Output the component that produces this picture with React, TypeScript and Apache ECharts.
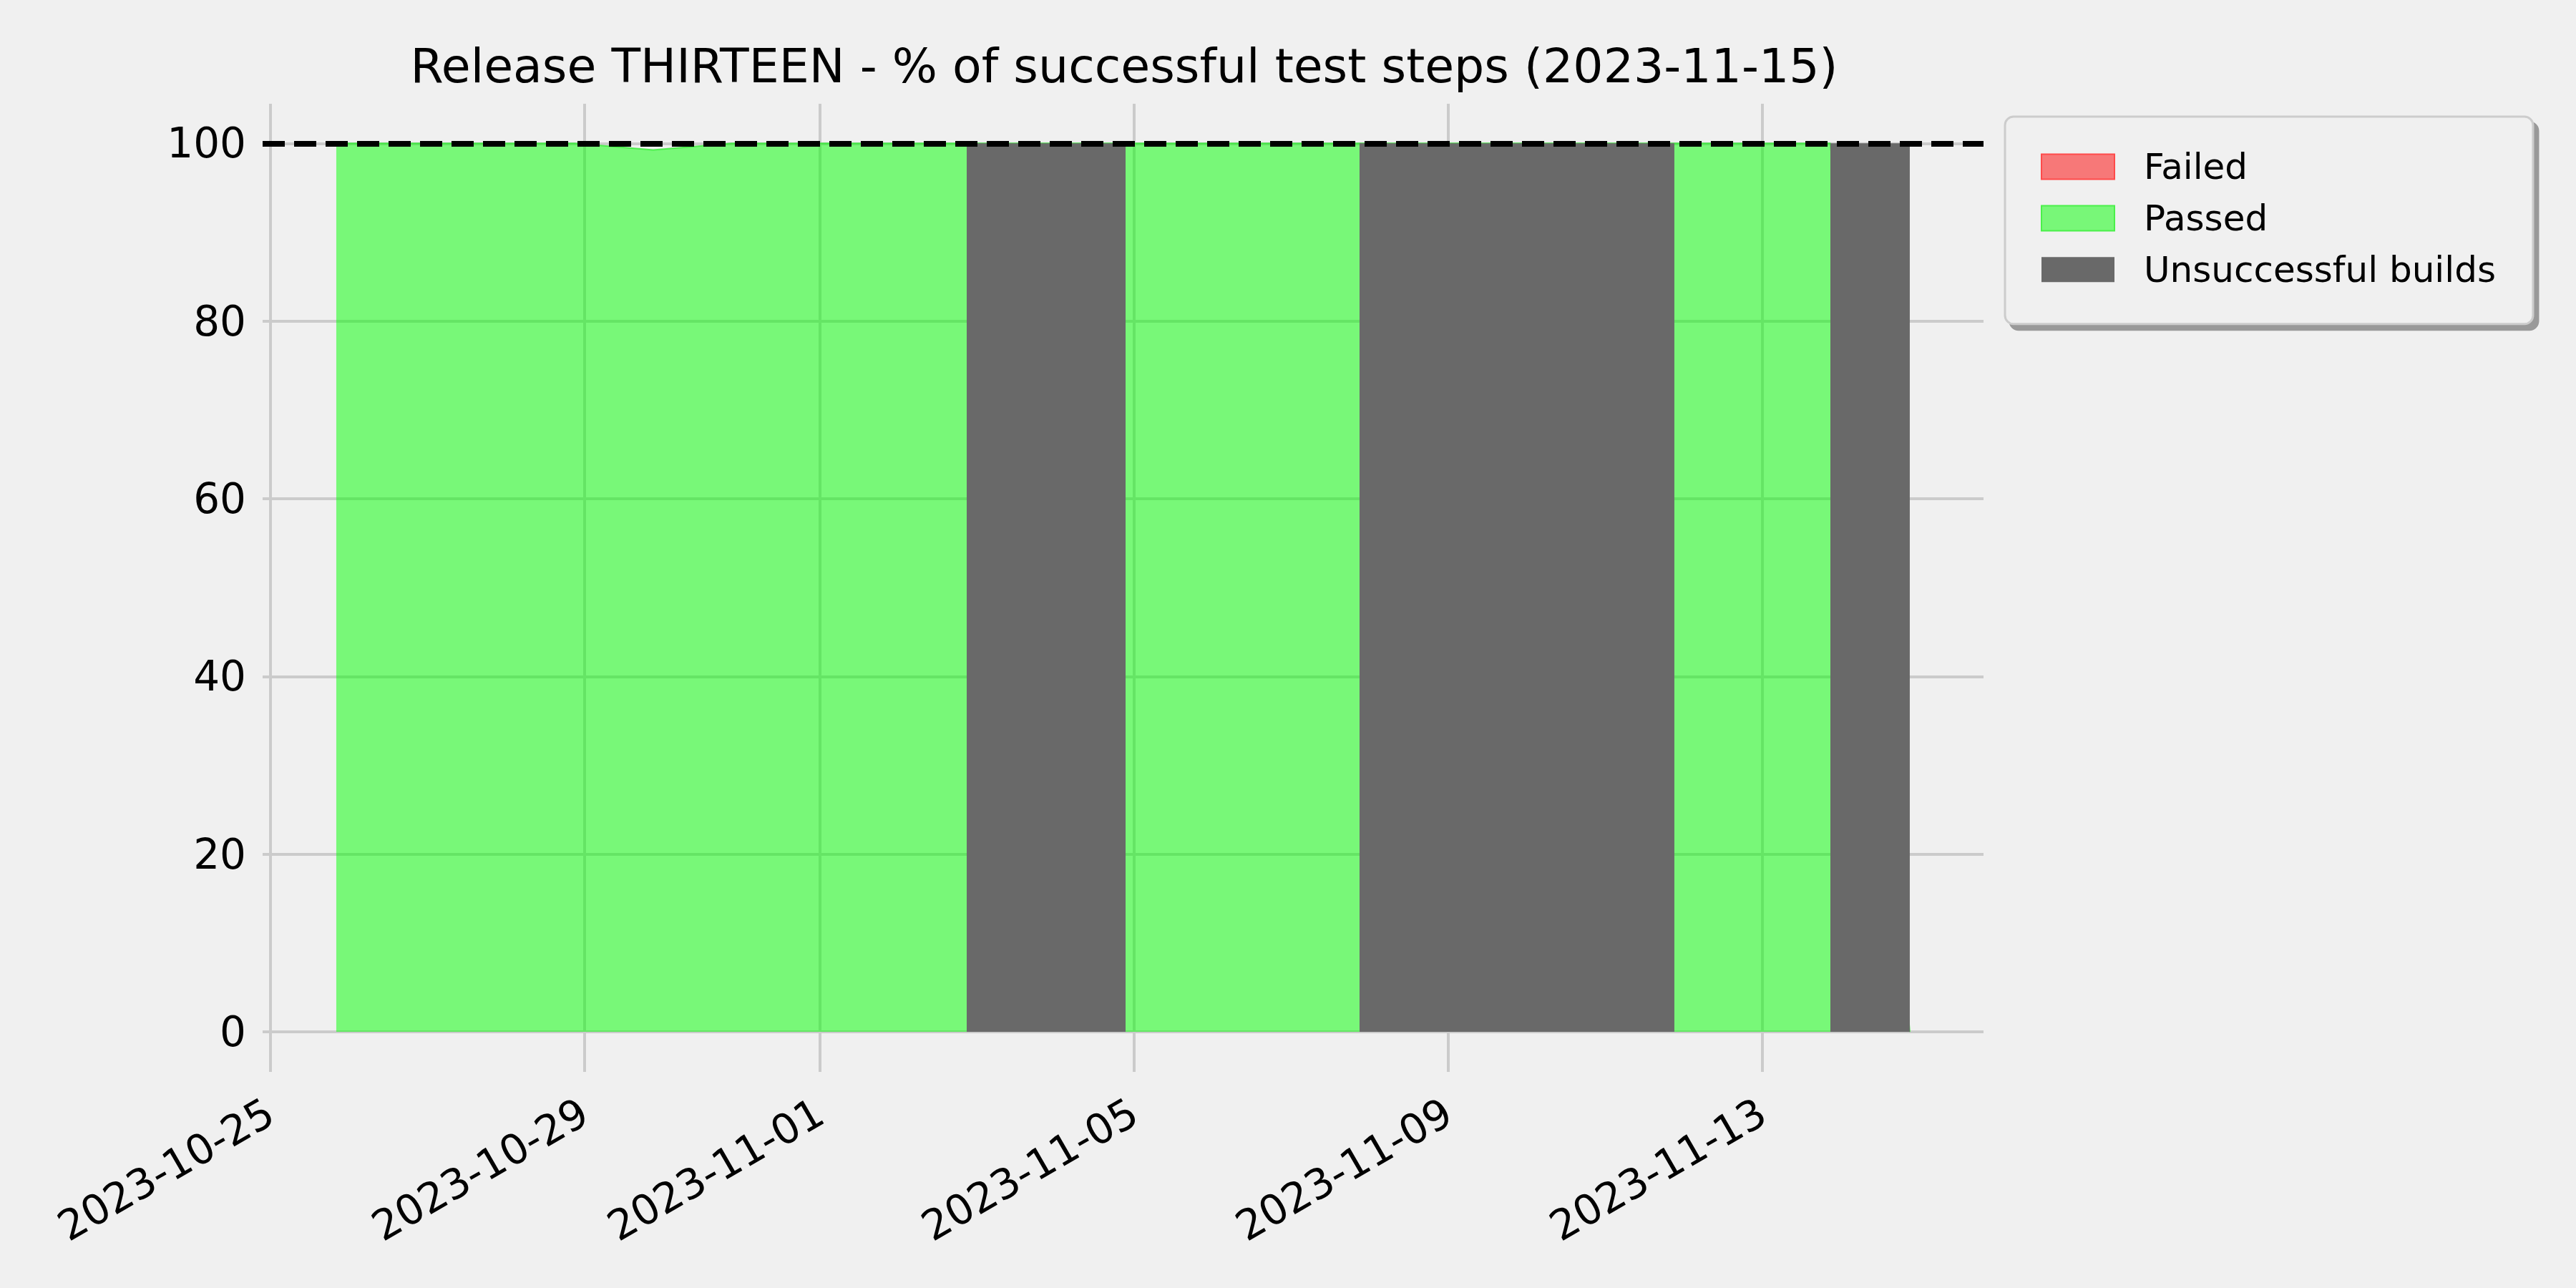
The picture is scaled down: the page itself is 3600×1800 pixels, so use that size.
import React, { useEffect, useRef } from "react";
import * as echarts from "echarts";

// ---------------- data ----------------
const titleText = "Release THIRTEEN - % of successful test steps (2023-11-15)";

const buildDates = [
  "2023-10-25 20:10", "2023-10-26 21:00", "2023-10-27 21:00", "2023-10-28 21:00",
  "2023-10-29 21:00", "2023-10-30 21:00", "2023-10-31 21:00", "2023-11-01 21:00",
  "2023-11-02 20:50", "2023-11-03 21:00", "2023-11-04 21:23", "2023-11-05 21:00",
  "2023-11-06 21:00", "2023-11-07 20:53", "2023-11-08 21:00", "2023-11-09 21:00",
  "2023-11-10 21:00", "2023-11-11 21:06", "2023-11-12 21:00", "2023-11-13 20:47",
  "2023-11-14 21:03",
];
const passedPct = [
  100, 100, 100, 100, 99.25, 100, 100, 100, 100, 100, 100,
  100, 100, 100, 100, 100, 100, 100, 100, 100, 0,
];
const failedPct = [
  0, 0, 0, 0, 0.75, 0, 0, 0, 0, 0, 0,
  0, 0, 0, 0, 0, 0, 0, 0, 0, 100,
];
// 1 = the build of that day was unsuccessful (grey band until the next build)
const unsuccessfulBuild = [
  0, 0, 0, 0, 0, 0, 0, 0, 1, 1, 0,
  0, 0, 1, 1, 1, 1, 0, 0, 1, 0,
];
const xTickDates = ["2023-10-25", "2023-10-29", "2023-11-01", "2023-11-05", "2023-11-09", "2023-11-13"];
const yTickValues = [0, 20, 40, 60, 80, 100];
const xAxisMin = "2023-10-24 21:39";
const xAxisMax = "2023-11-15 19:35";
const yAxisMin = -4.5;
const yAxisMax = 104.45;
const referenceLevel = 100;
const seriesNames = ["Failed", "Passed", "Unsuccessful builds"];

// ---------------- helpers ----------------
const FONT = "DejaVu Sans";
const toTs = (s: string) => {
  const [d, t = "00:00"] = s.split(" ");
  const [Y, M, D] = d.split("-").map(Number);
  const [h, m] = t.split(":").map(Number);
  return new Date(Y, M - 1, D, h, m).getTime();
};
const pad2 = (n: number) => (n < 10 ? "0" + n : "" + n);
const fmtDate = (v: number) => {
  const d = new Date(v);
  return `${d.getFullYear()}-${pad2(d.getMonth() + 1)}-${pad2(d.getDate())}`;
};

export default function App() {
  const ref = useRef<HTMLDivElement>(null);

  useEffect(() => {
    if (!ref.current) return;
    const chart = echarts.init(ref.current, undefined, { renderer: "svg" });

    const ts = buildDates.map(toTs);
    const passedData = ts.map((t, i) => [t, passedPct[i]]);
    const failedData = ts.map((t, i) => [t, failedPct[i]]);

    // merge consecutive unsuccessful builds into bands [start, end, top]
    const bands: number[][] = [];
    let i = 0;
    while (i < ts.length) {
      if (unsuccessfulBuild[i]) {
        let j = i;
        while (j + 1 < ts.length && unsuccessfulBuild[j + 1]) j++;
        const end = j + 1 < ts.length ? ts[j + 1] : ts[j];
        bands.push([ts[i], end, referenceLevel]);
        i = j + 1;
      } else i++;
    }

    const xTicks = xTickDates.map(toTs);
    const gridLine = { show: true, lineStyle: { color: "#cbcbcb", width: 4 } };

    chart.setOption({
      animation: false,
      backgroundColor: "#f0f0f0",
      title: {
        text: titleText,
        left: 1571,
        top: 58,
        textAlign: "center",
        padding: 0,
        textStyle: { fontSize: 66.5, fontWeight: "normal", fontFamily: FONT, color: "#000" },
      },
      grid: { left: 367, right: 828, top: 145, bottom: 302, containLabel: false },
      legend: {
        orient: "vertical",
        left: 2802,
        top: 163,
        padding: [45, 52, 51, 50],
        itemWidth: 102,
        itemHeight: 35,
        itemGap: 21.9,
        backgroundColor: "#f0f0f0",
        borderColor: "#cccccc",
        borderWidth: 3,
        borderRadius: 12,
        shadowColor: "#999999",
        shadowOffsetX: 7,
        shadowOffsetY: 8,
        shadowBlur: 0,
        selectedMode: false,
        textStyle: { fontSize: 50, fontFamily: FONT, color: "#000", lineHeight: 35, padding: [0, 0, 0, 36] },
        data: [
          { name: seriesNames[0], icon: "rect", itemStyle: { color: "#f77878", borderColor: "#ff4a4a", borderWidth: 2 } },
          { name: seriesNames[1], icon: "rect", itemStyle: { color: "#78f778", borderColor: "#4af04a", borderWidth: 2 } },
          { name: seriesNames[2], icon: "rect", itemStyle: { color: "#696969", borderWidth: 0 } },
        ],
      },
      xAxis: {
        type: "value",
        min: toTs(xAxisMin),
        max: toTs(xAxisMax),
        axisLine: { show: false },
        axisTick: { show: false, customValues: xTicks },
        axisLabel: {
          customValues: xTicks,
          formatter: (v: number) => fmtDate(v),
          rotate: 30,
          margin: 52,
          fontSize: 58,
          fontFamily: FONT,
          color: "#000",
        },
        splitLine: gridLine,
      },
      yAxis: {
        type: "value",
        min: yAxisMin,
        max: yAxisMax,
        axisLine: { show: false },
        axisTick: { show: false, customValues: yTickValues },
        axisLabel: {
          customValues: yTickValues,
          margin: 23,
          fontSize: 58,
          fontFamily: FONT,
          color: "#000",
        },
        splitLine: gridLine,
      },
      series: [
        {
          name: seriesNames[1],
          type: "line",
          stack: "tests",
          data: passedData,
          symbol: "none",
          showSymbol: false,
          z: 2,
          itemStyle: { color: "#78f778" },
          lineStyle: { width: 2, color: "rgba(40,235,40,0.7)" },
          areaStyle: { color: "rgba(0,255,0,0.5)", opacity: 1 },
        },
        {
          name: seriesNames[0],
          type: "line",
          stack: "tests",
          data: failedData,
          symbol: "none",
          showSymbol: false,
          z: 2,
          itemStyle: { color: "#f77878" },
          lineStyle: { width: 2, color: "rgba(255,60,60,0.6)" },
          areaStyle: { color: "rgba(255,0,0,0.5)", opacity: 1 },
        },
        {
          name: seriesNames[2],
          type: "custom",
          z: 3,
          data: bands,
          encode: { x: [0, 1], y: 2 },
          itemStyle: { color: "#696969" },
          renderItem: (params: any, api: any) => {
            const p0 = api.coord([api.value(0), api.value(2)]);
            const p1 = api.coord([api.value(1), 0]);
            return {
              type: "rect",
              shape: { x: p0[0], y: p0[1], width: p1[0] - p0[0], height: p1[1] - p0[1] },
              style: { fill: "#696969" },
            };
          },
          markLine: {
            silent: true,
            symbol: "none",
            z: 10,
            label: { show: false },
            lineStyle: { color: "#000", width: 8, type: [31, 13] },
            data: [{ yAxis: referenceLevel }],
          },
        },
      ],
    });

    return () => chart.dispose();
  }, []);

  return (
    <div
      ref={ref}
      style={{ position: "fixed", left: 0, top: 0, width: 3600, height: 1800 }}
    />
  );
}
